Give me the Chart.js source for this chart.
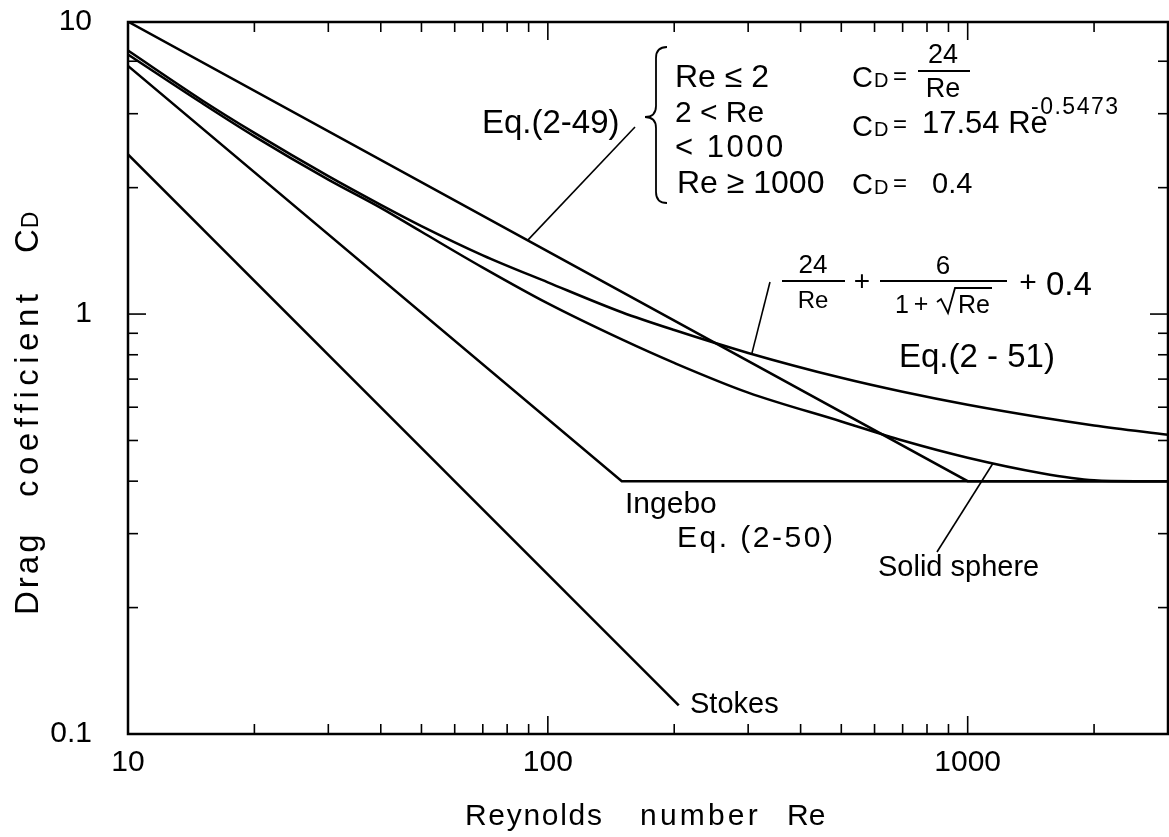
<!DOCTYPE html>
<html>
<head>
<meta charset="utf-8">
<script src="https://cdn.jsdelivr.net/npm/chart.js@4.4.1/dist/chart.umd.min.js"></script>
<style>
html,body{margin:0;padding:0;background:#fff;}
canvas{display:block;}
</style>
</head>
<body>
<canvas id="c" width="1169" height="837"></canvas>
<script>
// ---------------- data ----------------
const X_MIN = 10, X_MAX = 3000;
const Y_MIN = 0.1, Y_MAX = 4.96;
const xTickValues = [10, 100, 1000];
const xTickLabels = ['10', '100', '1000'];
const yTickValues = [0.1, 1, 4.96];
const yTickLabels = ['0.1', '1', '10'];
const xMinorTicks = [20, 30, 40, 50, 60, 70, 80, 90, 200, 300, 400, 500, 600, 700, 800, 900, 2000, 3000];
const yMinorTicks = [0.2, 0.3, 0.4, 0.5, 0.6, 0.7, 0.8, 0.9, 2, 3, 4];

// Eq.(2-49)
const eq249Re = [10, 1000, 3000];
const eq249Cd = [4.97, 0.40, 0.40];
// Ingebo Eq.(2-50)
const eq250Re = [10, 150, 3000];
const eq250Cd = [3.90, 0.40, 0.40];
// Eq.(2-51)
const eq251Re = [10, 15, 20, 30, 40, 50, 70, 100, 150, 200, 300, 500, 700, 1000, 1500, 2000, 3000];
const eq251Cd = [4.24, 3.23, 2.70, 2.13, 1.82, 1.62, 1.38, 1.19, 1.01, 0.916, 0.808, 0.705, 0.653, 0.608, 0.567, 0.543, 0.516];
// Solid sphere
const sphereRe = [10, 15, 20, 30, 40, 50, 70, 100, 150, 200, 300, 500, 700, 1000, 1500, 2000, 2500, 3000];
const sphereCd = [4.15, 3.18, 2.65, 2.09, 1.79, 1.57, 1.29, 1.06, 0.87, 0.765, 0.65, 0.555, 0.50, 0.455, 0.418, 0.402, 0.40, 0.40];
// Stokes
const stokesRe = [10, 205];
const stokesCd = [2.4, 0.117];

// ---------------- chart ----------------
const FONT = '"Liberation Sans", Arial, sans-serif';
const pts = (xs, ys) => xs.map((x, i) => ({x: x, y: ys[i]}));
const line = (xs, ys, smooth) => ({
  data: pts(xs, ys), showLine: true, pointRadius: 0, borderColor: '#000',
  borderWidth: 2.5, fill: false, tension: 0,
  cubicInterpolationMode: smooth ? 'monotone' : 'default'
});

const annot = {
  id: 'annot',
  beforeDraw(chart) {
    const c = chart.ctx; c.save(); c.fillStyle = '#fff';
    c.fillRect(0, 0, chart.width, chart.height); c.restore();
  },
  afterDraw(chart) {
    const ctx = chart.ctx, xs = chart.scales.x, ys = chart.scales.y, a = chart.chartArea;
    const X = v => xs.getPixelForValue(v), Y = v => ys.getPixelForValue(v);
    ctx.save();
    ctx.strokeStyle = '#000'; ctx.fillStyle = '#000';
    // frame
    ctx.lineWidth = 2.5;
    ctx.strokeRect(a.left, a.top, a.right - a.left, a.bottom - a.top);
    // inward ticks
    ctx.lineWidth = 1.6;
    const seg = (x1, y1, x2, y2) => { ctx.beginPath(); ctx.moveTo(x1, y1); ctx.lineTo(x2, y2); ctx.stroke(); };
    xTickValues.concat(xMinorTicks).forEach(v => {
      const len = xTickValues.includes(v) ? 18 : 10, p = X(v);
      seg(p, a.bottom, p, a.bottom - len); seg(p, a.top, p, a.top + len);
    });
    [0.1, 1].concat(yMinorTicks).forEach(v => {
      const len = (v === 1) ? 18 : 10, p = Y(v);
      seg(a.left, p, a.left + len, p); seg(a.right, p, a.right - len, p);
    });

    function T(s, x, y, size, opt) {
      opt = opt || {};
      ctx.font = size + 'px ' + FONT;
      ctx.letterSpacing = (opt.ls || 0) + 'px';
      ctx.textAlign = opt.align || 'left';
      ctx.textBaseline = 'alphabetic';
      ctx.fillText(s, x, y);
      const w = ctx.measureText(s).width;
      ctx.letterSpacing = '0px';
      return w;
    }
    function CD(x, base, size) {
      const w = T('C', x, base, size);
      T('D', x + w + 1, base, Math.round(size * 0.7));
    }

    // axis titles
    T('Reynolds', 465, 825, 30, {ls: 1.7});
    T('number', 640, 825, 30, {ls: 3.2});
    T('Re', 787, 825, 30);
    ctx.save();
    ctx.translate(38, 615); ctx.rotate(-Math.PI / 2);
    T('Drag', 0, 0, 33, {ls: 3});
    T('coefficient', 118, 0, 33, {ls: 5.5});
    const wc = T('C', 362, 0, 33);
    T('D', 362 + wc + 1, 0, 23);
    ctx.restore();

    // Eq.(2-49) block
    T('Eq.(2-49)', 482, 133, 33);
    ctx.lineWidth = 1.6;
    seg(635, 127, X(89.6), Y(1.50));
    ctx.lineWidth = 1.8;
    ctx.beginPath();
    ctx.moveTo(667, 47);
    ctx.quadraticCurveTo(656, 47, 656, 58);
    ctx.lineTo(656, 106);
    ctx.quadraticCurveTo(656, 117, 645, 117);
    ctx.quadraticCurveTo(656, 117, 656, 128);
    ctx.lineTo(656, 192);
    ctx.quadraticCurveTo(656, 203, 667, 203);
    ctx.stroke();
    T('Re \u2264 2', 675, 87, 32);
    T('2 < Re', 675, 122, 30);
    T('< 1000', 675, 157, 31, {ls: 2.5});
    T('Re \u2265 1000', 677, 193, 32);
    CD(852, 87, 29); T('=', 893, 84, 24);
    T('24', 943, 63, 27, {align: 'center'});
    ctx.lineWidth = 2; seg(918, 71, 970, 71);
    T('Re', 943, 97, 27, {align: 'center'});
    CD(852, 136, 29); T('=', 893, 132, 24);
    T('17.54 Re', 922, 133, 31);
    T('-0.5473', 1031, 114, 23, {ls: 1.5});
    CD(852, 194, 29); T('=', 893, 191, 24);
    T('0.4', 932, 193, 29);

    // Eq.(2-51) block
    T('24', 813, 273, 26, {align: 'center'});
    ctx.lineWidth = 2; seg(782, 281, 845, 281);
    T('Re', 813, 308, 24, {align: 'center'});
    T('+', 862, 290, 28, {align: 'center'});
    T('6', 943, 274, 26, {align: 'center'});
    seg(880, 281, 1007, 281);
    T('1', 895, 313, 25);
    T('+', 921, 312, 25, {align: 'center'});
    ctx.lineWidth = 1.8;
    ctx.beginPath();
    ctx.moveTo(937, 302); ctx.lineTo(941, 299); ctx.lineTo(948, 313);
    ctx.lineTo(955, 288); ctx.lineTo(992, 288);
    ctx.stroke();
    T('Re', 958, 313, 25);
    T('+', 1028, 292, 30, {align: 'center'});
    T('0.4', 1046, 295, 33);
    T('Eq.(2 - 51)', 899, 367, 33);
    ctx.lineWidth = 1.6;
    seg(770, 282, X(306), Y(0.804));

    // Ingebo / sphere / Stokes labels
    T('Ingebo', 625, 513, 30);
    T('Eq. (2-50)', 677, 547, 30, {ls: 2.5});
    T('Solid sphere', 878, 576, 29);
    seg(X(1147), Y(0.44), 937, 552);
    T('Stokes', 690, 713, 29);
    ctx.restore();
  }
};

new Chart(document.getElementById('c'), {
  type: 'scatter',
  data: {
    datasets: [
      line(eq249Re, eq249Cd, false),
      line(eq250Re, eq250Cd, false),
      line(eq251Re, eq251Cd, true),
      line(sphereRe, sphereCd, true),
      line(stokesRe, stokesCd, false)
    ]
  },
  options: {
    responsive: false,
    animation: false,
    layout: {padding: {left: 0, right: 1, top: 22, bottom: 0}},
    plugins: {legend: {display: false}, tooltip: {enabled: false}, title: {display: false}},
    scales: {
      x: {
        type: 'logarithmic', position: 'bottom', min: X_MIN, max: X_MAX,
        grid: {display: false, drawTicks: false}, border: {display: false},
        afterBuildTicks: s => { s.ticks = xTickValues.map(v => ({value: v})); },
        afterFit: s => { s.height = 103; s.paddingLeft = 0; s.paddingRight = 0; s.paddingTop = 0; s.paddingBottom = 0; },
        ticks: {
          padding: 11, autoSkip: false, maxRotation: 0, minRotation: 0, color: '#000',
          font: {family: FONT, size: 30},
          callback: (v, i) => xTickLabels[i]
        }
      },
      y: {
        type: 'logarithmic', position: 'left', min: Y_MIN, max: Y_MAX,
        grid: {display: false, drawTicks: false}, border: {display: false},
        afterBuildTicks: s => { s.ticks = yTickValues.map(v => ({value: v})); },
        afterFit: s => { s.width = 128; s.paddingTop = 0; s.paddingBottom = 0; s.paddingLeft = 0; s.paddingRight = 0; },
        ticks: {
          padding: 36, autoSkip: false, color: '#000',
          font: {family: FONT, size: 30},
          callback: (v, i) => yTickLabels[i]
        }
      }
    }
  },
  plugins: [annot]
});
</script>
</body>
</html>
